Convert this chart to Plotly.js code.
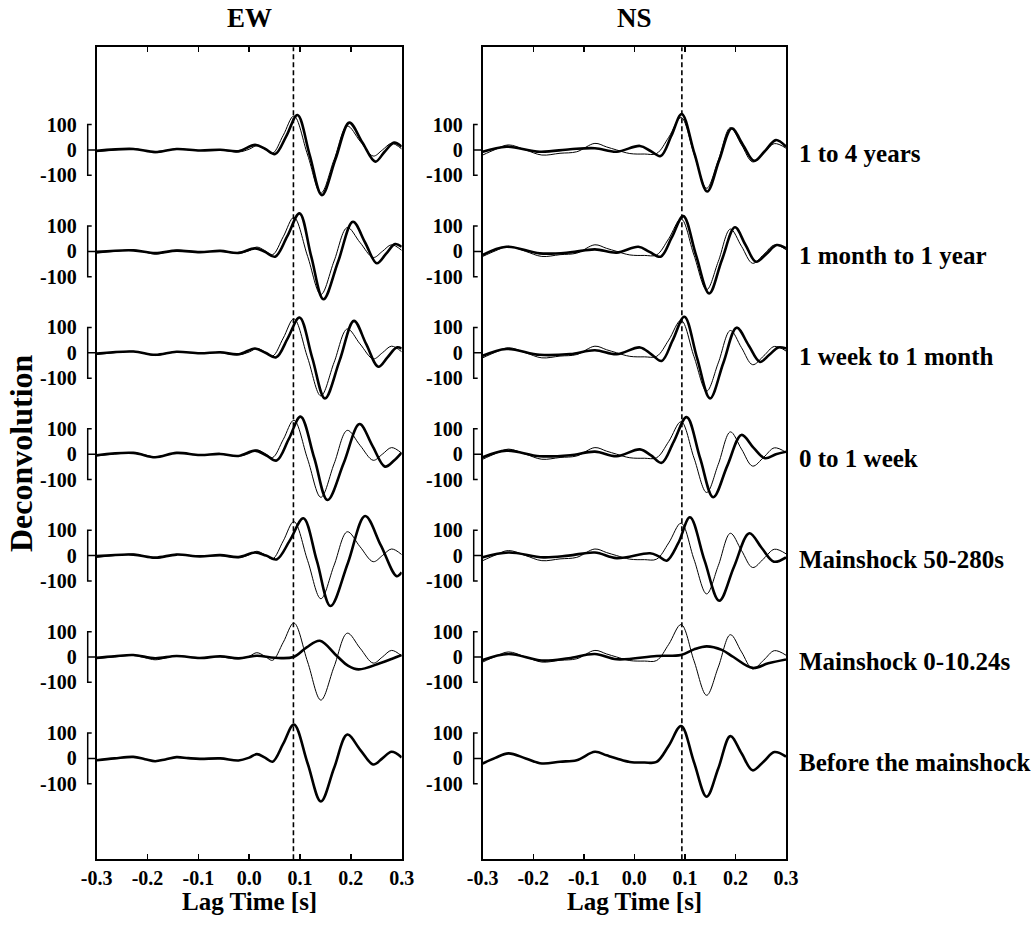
<!DOCTYPE html>
<html><head><meta charset="utf-8">
<script src="https://cdn.plot.ly/plotly-3.0.1.min.js"></script>
<style>html,body{margin:0;padding:0;background:#fff}</style>
</head><body><div id="chart" style="width:1033px;height:929px"></div>
<script>
// ---------- data ----------
const periodLabels = ["1 to 4 years", "1 month to 1 year", "1 week to 1 month", "0 to 1 week",
  "Mainshock 50-280s", "Mainshock 0-10.24s", "Before the mainshock"];
const rowSpacing = 400;
const yTickValues = [100, 0, -100];
const yTickLabels = ["100", "0", "-100"];
const xTickValues = [-0.3, -0.2, -0.1, 0.0, 0.1, 0.2, 0.3];
const xTickLabels = ["-0.3", "-0.2", "-0.1", "0.0", "0.1", "0.2", "0.3"];
const ewPickTime = 0.087;
const nsPickTime = 0.094;

// EW component
const ewBeforeX = [-0.30, -0.265, -0.228, -0.205, -0.185, -0.165, -0.143, -0.12, -0.097, -0.057, -0.021, 0.000, 0.015, 0.031, 0.046, 0.067, 0.088, 0.115, 0.141, 0.167, 0.193, 0.218, 0.244, 0.262, 0.280, 0.300];
const ewBeforeY = [-7, 0, 6, -3, -11, -4, 5, 1, -2, 0, -8, 3, 17, 3, -13, 58, 134, -20, -170, -38, 94, 35, -24, 0, 26, 4];
const ew1X = [-0.30, -0.228, -0.185, -0.143, -0.097, -0.057, -0.021, 0.0115, 0.031, 0.051, 0.073, 0.095, 0.119, 0.143, 0.170, 0.197, 0.222, 0.248, 0.266, 0.285, 0.300];
const ew1Y = [-3, 4, -8, 4, -2, 1, -5, 20, 5, -16, 55, 138, -20, -178, -35, 108, 32, -46, -8, 29, 13];
const ew2X = [-0.30, -0.228, -0.185, -0.143, -0.097, -0.057, -0.021, 0.0115, 0.031, 0.051, 0.075, 0.099, 0.122, 0.146, 0.175, 0.204, 0.228, 0.251, 0.269, 0.287, 0.300];
const ew2Y = [-2, 4, -7, 3, -3, 2, -6, 12, -2, -21, 60, 150, -20, -189, -40, 117, 35, -47, -10, 29, 18];
const ew3X = [-0.30, -0.228, -0.185, -0.143, -0.097, -0.057, -0.021, 0.0115, 0.032, 0.053, 0.076, 0.099, 0.124, 0.149, 0.178, 0.206, 0.230, 0.254, 0.272, 0.290, 0.300];
const ew3Y = [-3, 5, -8, 4, -2, 2, -6, 17, 0, -18, 58, 139, -20, -180, -30, 126, 35, -55, -18, 21, 17];
const ew4X = [-0.30, -0.228, -0.185, -0.143, -0.097, -0.057, -0.021, 0.0115, 0.033, 0.054, 0.078, 0.101, 0.128, 0.154, 0.186, 0.217, 0.242, 0.267, 0.285, 0.300];
const ew4Y = [-4, 5, -12, 5, -3, 1, -7, 14, -4, -25, 60, 148, -15, -181, -35, 119, 35, -49, -25, 6];
const ew5X = [-0.30, -0.228, -0.185, -0.143, -0.097, -0.057, -0.021, 0.0115, 0.033, 0.054, 0.080, 0.1066, 0.133, 0.160, 0.194, 0.228, 0.259, 0.290, 0.300];
const ew5Y = [-2, 4, -8, 4, -3, 2, -6, 12, 0, -15, 60, 147, -20, -199, -30, 156, 40, -81, -66];
const ew6X = [-0.30, -0.265, -0.228, -0.185, -0.143, -0.097, -0.057, -0.021, 0.015, 0.050, 0.087, 0.113, 0.139, 0.172, 0.195, 0.215, 0.257, 0.280, 0.300];
const ew6Y = [-3, 3, 8, -5, 4, -4, 3, -5, 5, -3, 0, 38, 64, 5, -35, -49, -25, -8, 8];

// NS component
const nsBeforeX = [-0.30, -0.275, -0.249, -0.215, -0.183, -0.147, -0.114, -0.078, -0.055, -0.035, -0.009, 0.020, 0.044, 0.068, 0.0925, 0.118, 0.143, 0.166, 0.190, 0.212, 0.234, 0.256, 0.277, 0.300];
const nsBeforeY = [-20, 2, 20, 0, -20, -13, -7, 26, 12, 0, -14, -16, -14, 50, 128, -15, -151, -40, 88, 20, -47, -12, 25, 7];
const ns1X = [-0.30, -0.253, -0.187, -0.127, -0.078, -0.035, 0.011, 0.032, 0.052, 0.073, 0.0937, 0.119, 0.144, 0.168, 0.1925, 0.215, 0.237, 0.258, 0.280, 0.300];
const ns1Y = [-7, 13, -7, 3, 7, -7, 16, -4, -24, 55, 142, -15, -164, -40, 85, 20, -43, -5, 39, 13];
const ns2X = [-0.30, -0.253, -0.187, -0.127, -0.078, -0.035, 0.008, 0.030, 0.052, 0.074, 0.0968, 0.122, 0.148, 0.173, 0.199, 0.220, 0.2407, 0.261, 0.2816, 0.300];
const ns2Y = [-14, 18, -8, -4, 8, -5, 18, -2, -21, 55, 139, -15, -166, -35, 95, 25, -41, -10, 25, 12];
const ns3X = [-0.30, -0.253, -0.187, -0.127, -0.078, -0.035, 0.0112, 0.033, 0.054, 0.076, 0.099, 0.124, 0.1497, 0.176, 0.2024, 0.226, 0.2486, 0.267, 0.2848, 0.300];
const ns3Y = [-12, 15, -8, -5, 10, -6, 21, -5, -32, 50, 142, -20, -180, -40, 99, 30, -36, -8, 21, 17];
const ns4X = [-0.30, -0.253, -0.187, -0.127, -0.078, -0.035, 0.011, 0.033, 0.054, 0.078, 0.1035, 0.130, 0.156, 0.184, 0.212, 0.236, 0.2585, 0.280, 0.300];
const ns4Y = [-12, 14, -8, -4, 10, -8, 19, -5, -34, 50, 146, -15, -170, -45, 76, 25, -16, 0, 10];
const ns5X = [-0.30, -0.249, -0.18, -0.13, -0.078, -0.035, 0.031, 0.0475, 0.064, 0.087, 0.110, 0.139, 0.168, 0.197, 0.2274, 0.252, 0.276, 0.300];
const ns5Y = [-7, 12, -7, 0, 12, -10, 9, -2, -20, 50, 151, -20, -178, -45, 88, 30, -24, -7];
const ns6X = [-0.30, -0.249, -0.183, -0.13, -0.078, -0.035, 0.044, 0.092, 0.118, 0.143, 0.173, 0.196, 0.234, 0.265, 0.300];
const ns6Y = [-12, 12, -14, -5, 12, -9, 4, 8, 30, 42, 28, 0, -43, -25, -10];

// ---------- build ----------
const FONT = "Liberation Serif, Times New Roman, serif";
const ewRows = [[ew1X, ew1Y], [ew2X, ew2Y], [ew3X, ew3Y], [ew4X, ew4Y], [ew5X, ew5Y], [ew6X, ew6Y]];
const nsRows = [[ns1X, ns1Y], [ns2X, ns2Y], [ns3X, ns3Y], [ns4X, ns4Y], [ns5X, ns5Y], [ns6X, ns6Y]];
const offsets = periodLabels.map((_, i) => -i * rowSpacing);

const W = 1033, H = 929;
const ewDomain = [96.7 / W, 401.7 / W];
const nsDomain = [482.7 / W, 786 / W];
const yDomain = [1 - 859.3 / H, 1 - 47.3 / H];

function shifted(arr, off) { return arr.map(v => v + off); }

const traces = [];
function addPanel(rows, beforeX, beforeY, xa, ya) {
  rows.forEach((r, i) => {
    traces.push({x: beforeX, y: shifted(beforeY, offsets[i]), xaxis: xa, yaxis: ya, mode: 'lines',
      line: {color: '#000', width: 1, shape: 'spline', smoothing: 1}, hoverinfo: 'skip'});
    traces.push({x: r[0], y: shifted(r[1], offsets[i]), xaxis: xa, yaxis: ya, mode: 'lines',
      line: {color: '#000', width: 2.6, shape: 'spline', smoothing: 1}, hoverinfo: 'skip'});
  });
  traces.push({x: beforeX, y: shifted(beforeY, offsets[6]), xaxis: xa, yaxis: ya, mode: 'lines',
    line: {color: '#000', width: 2.6, shape: 'spline', smoothing: 1}, hoverinfo: 'skip'});
}
addPanel(ewRows, ewBeforeX, ewBeforeY, 'x', 'y');
addPanel(nsRows, nsBeforeX, nsBeforeY, 'x2', 'y2');

const yTicks = [], yText = [];
offsets.forEach(o => yTickValues.forEach((v, j) => { yTicks.push(o + v); yText.push(yTickLabels[j]); }));

const tickFont = {family: FONT, size: 20, color: '#000', weight: 'bold'};
function xAxis(domain, anchor) {
  return {domain, anchor, range: [-0.3, 0.3], tickvals: xTickValues, ticktext: xTickLabels,
    ticks: 'inside', ticklen: 5, tickwidth: 1.5, tickcolor: '#000', showline: true, linewidth: 2,
    linecolor: '#000', mirror: 'ticks', showgrid: false, zeroline: false, tickfont: tickFont,
    ticklabelstandoff: 0, fixedrange: true};
}
function yAxis(anchor) {
  return {domain: yDomain, anchor, range: [-2798, 405], tickvals: yTicks, ticktext: yText,
    ticks: '', showline: true, linewidth: 2, linecolor: '#000', mirror: true, showgrid: false,
    zeroline: false, tickfont: tickFont, ticklabelstandoff: 14, fixedrange: true};
}

const shapes = [];
function brackets(domain, yref) {
  const xa = domain[0], x0 = domain[0] - 9 / W, x1 = domain[0] - 5 / W;
  offsets.forEach(o => {
    const t = o + yTickValues[0], b = o + yTickValues[2];
    shapes.push({type: 'path', xref: 'paper', yref,
      path: `M ${x1} ${t} L ${x0} ${t} L ${x0} ${b} L ${x1} ${b} M ${x0} ${o} L ${xa} ${o}`,
      line: {color: '#000', width: 1.5}});
  });
}
brackets(ewDomain, 'y');
brackets(nsDomain, 'y2');
shapes.push({type: 'line', xref: 'x', yref: 'y domain', x0: ewPickTime, x1: ewPickTime, y0: 0, y1: 1,
  line: {color: '#000', width: 1.6, dash: '5px,3px'}});
shapes.push({type: 'line', xref: 'x2', yref: 'y2 domain', x0: nsPickTime, x1: nsPickTime, y0: 0, y1: 1,
  line: {color: '#000', width: 1.6, dash: '5px,3px'}});

const annFont = {family: FONT, size: 25, color: '#000', weight: 'bold'};
const annotations = [];
periodLabels.forEach((lab, i) => annotations.push({text: lab, xref: 'paper', x: 797 / W, xanchor: 'left',
  yref: 'y2', y: offsets[i], yanchor: 'middle', yshift: -4, showarrow: false, font: annFont}));
annotations.push({text: 'EW', xref: 'paper', yref: 'paper', x: (ewDomain[0] + ewDomain[1]) / 2, y: 1 - 18 / H,
  xanchor: 'center', yanchor: 'middle', showarrow: false, font: {...annFont, size: 27}});
annotations.push({text: 'NS', xref: 'paper', yref: 'paper', x: (nsDomain[0] + nsDomain[1]) / 2, y: 1 - 18 / H,
  xanchor: 'center', yanchor: 'middle', showarrow: false, font: {...annFont, size: 27}});
annotations.push({text: 'Lag Time [s]', xref: 'paper', yref: 'paper', x: (ewDomain[0] + ewDomain[1]) / 2, y: 1 - 901 / H,
  xanchor: 'center', yanchor: 'middle', showarrow: false, font: {...annFont, size: 25}});
annotations.push({text: 'Lag Time [s]', xref: 'paper', yref: 'paper', x: (nsDomain[0] + nsDomain[1]) / 2, y: 1 - 901 / H,
  xanchor: 'center', yanchor: 'middle', showarrow: false, font: {...annFont, size: 25}});
annotations.push({text: 'Deconvolution', xref: 'paper', yref: 'paper', x: 21 / W, y: 1 - 453 / H, textangle: -90,
  xanchor: 'center', yanchor: 'middle', showarrow: false, font: {...annFont, size: 32}});

const layout = {
  width: W, height: H, margin: {l: 0, r: 0, t: 0, b: 0}, showlegend: false,
  paper_bgcolor: '#fff', plot_bgcolor: '#fff', font: {family: FONT, color: '#000', weight: 'bold'},
  xaxis: xAxis(ewDomain, 'y'), yaxis: yAxis('x'),
  xaxis2: xAxis(nsDomain, 'y2'), yaxis2: yAxis('x2'),
  shapes, annotations
};
Plotly.newPlot('chart', traces, layout, {staticPlot: true, displayModeBar: false});
</script></body></html>
